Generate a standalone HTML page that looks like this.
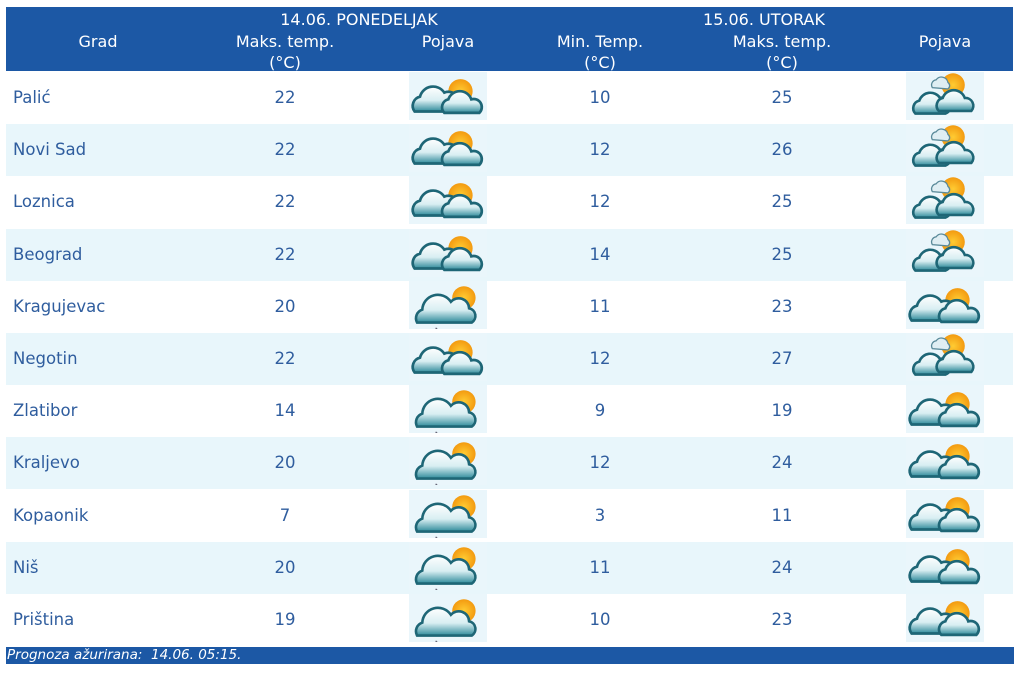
<!DOCTYPE html>
<html><head><meta charset="utf-8">
<style>
body{margin:0;width:1024px;height:675px;background:#fff;position:relative;overflow:hidden;font-family:"DejaVu Sans","Liberation Sans",sans-serif;}
.hd{position:absolute;left:6px;top:7px;width:1007px;height:64px;background:#1c58a5;}
.ht{position:absolute;color:#fff;font-size:16px;transform:translateX(-50%);white-space:nowrap;line-height:21px;text-align:center}
.row{position:absolute;left:6px;width:1007px;height:52px;}
.alt{background:#e8f6fb}
.c{position:absolute;color:#2f5d9e;font-size:16.5px;line-height:20px;white-space:nowrap}
.ib{position:absolute;width:78px;height:48px;background:#eaf6fb}
.ft{position:absolute;left:6px;top:647px;width:1007px;height:17px;background:#1c58a5;color:#fff;font-style:italic;font-size:13.5px;line-height:17px;padding-left:1px}
</style></head><body>
<svg width="0" height="0" style="position:absolute">
<defs>
<linearGradient id="cg" x1="0" y1="0" x2="0" y2="1"><stop offset="0" stop-color="#fff"/><stop offset="0.55" stop-color="#d8eef2"/><stop offset="1" stop-color="#2e8a9a"/></linearGradient>
<radialGradient id="sg"><stop offset="0" stop-color="#ffcc33"/><stop offset="1" stop-color="#f39a10"/></radialGradient>
<symbol id="A" viewBox="0 0 78 48"><g transform="translate(38,26) scale(1.35) translate(-38,-26)">
<circle cx="48" cy="21" r="9" fill="url(#sg)"/>
<path d="M14 36 a7 7 0 0 1 4-11 a10 10 0 0 1 18-3 a7 7 0 0 1 6 14 z" fill="url(#cg)" stroke="#1e6676" stroke-width="2"/>
<path d="M36 37 a6 6 0 0 1 3-10 a9 9 0 0 1 17 0 a6 6 0 0 1 6 10 z" fill="url(#cg)" stroke="#1e6676" stroke-width="2"/>
</g></symbol>
<symbol id="B" viewBox="0 0 78 48"><g transform="translate(38,26) scale(1.3) translate(-38,-26)">
<circle cx="51" cy="19" r="9" fill="url(#sg)"/>
<path d="M15 38 a7 7 0 0 1 4-10 a12 12 0 0 1 22-6 a8 8 0 0 1 14 5 a6 6 0 0 1 2 11 z" fill="url(#cg)" stroke="#1e6676" stroke-width="2"/>
<path d="M30 42 l-1 3 l-2 0" stroke="#667" stroke-width="1.3" fill="none"/>
</g></symbol>
<symbol id="C" viewBox="0 0 78 48"><g transform="translate(38,26) scale(1.3) translate(-38,-26)">
<circle cx="45" cy="16" r="9" fill="url(#sg)"/>
<path d="M29 18 a4 4 0 0 1 3-6 a5 5 0 0 1 9 2 a3 3 0 0 1 0 5 z" fill="#dfeef3" stroke="#5a8a9a" stroke-width="1"/>
<path d="M16 38 a6 6 0 0 1 3-10 a9 9 0 0 1 16-2 a6 6 0 0 1 4 12 z" fill="url(#cg)" stroke="#1e6676" stroke-width="2"/>
<path d="M34 36 a6 6 0 0 1 3-10 a9 9 0 0 1 17 0 a6 6 0 0 1 5 10 z" fill="url(#cg)" stroke="#1e6676" stroke-width="2"/>
</g></symbol>
</defs></svg>
<div class="hd"></div>
<div class="ht" style="left:98px;top:31px">Grad</div>
<div class="ht" style="left:359px;top:9px">14.06. PONEDELJAK</div>
<div class="ht" style="left:285px;top:31px">Maks. temp.<br>(°C)</div>
<div class="ht" style="left:448px;top:31px">Pojava</div>
<div class="ht" style="left:764px;top:9px">15.06. UTORAK</div>
<div class="ht" style="left:600px;top:31px">Min. Temp.<br>(°C)</div>
<div class="ht" style="left:782px;top:31px">Maks. temp.<br>(°C)</div>
<div class="ht" style="left:945px;top:31px">Pojava</div>
<div id="rows"></div>
<div class="ft">Prognoza ažurirana:&nbsp; 14.06. 05:15.</div>
<script>
var d=[["Palić",22,"A",10,25,"C"],["Novi Sad",22,"A",12,26,"C"],["Loznica",22,"A",12,25,"C"],["Beograd",22,"A",14,25,"C"],["Kragujevac",20,"B",11,23,"A"],["Negotin",22,"A",12,27,"C"],["Zlatibor",14,"B",9,19,"A"],["Kraljevo",20,"B",12,24,"A"],["Kopaonik",7,"B",3,11,"A"],["Niš",20,"B",11,24,"A"],["Priština",19,"B",10,23,"A"]];
var h="";
d.forEach(function(r,i){var y=72+i*52.2;
h+='<div class="row'+(i%2?' alt':'')+'" style="top:'+y+'px"></div>';
h+='<div class="ib" style="left:409px;top:'+y+'px"></div><div class="ib" style="left:906px;top:'+y+'px"></div>';
h+='<svg style="position:absolute;left:409px;top:'+y+'px" width="78" height="48"><use href="#'+r[2]+'"/></svg>';
h+='<svg style="position:absolute;left:906px;top:'+y+'px" width="78" height="48"><use href="#'+r[5]+'"/></svg>';
var ty=y+16;
h+='<div class="c" style="left:13px;top:'+ty+'px">'+r[0]+'</div>';
[[285,r[1]],[600,r[3]],[782,r[4]]].forEach(function(c){h+='<div class="c" style="left:'+c[0]+'px;top:'+ty+'px;transform:translateX(-50%)">'+c[1]+'</div>';});
});
document.getElementById("rows").innerHTML=h;
</script>
</body></html>
